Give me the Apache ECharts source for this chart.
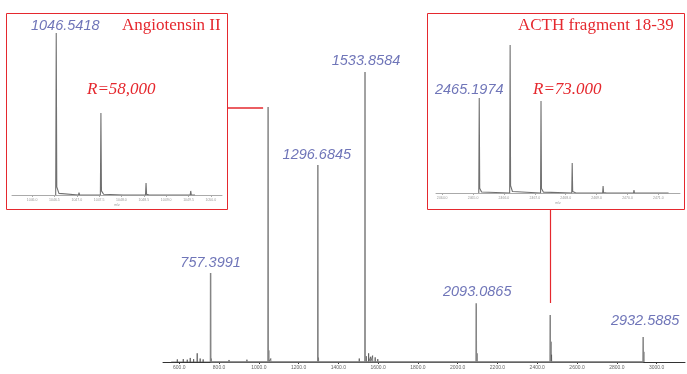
<!DOCTYPE html>
<html><head><meta charset="utf-8">
<script src="https://cdn.jsdelivr.net/npm/echarts@6/dist/echarts.min.js"></script>
<style>html,body{margin:0;padding:0;background:#fff}#c{width:687px;height:374px}</style>
</head><body><div id="c"></div>
<script>
// Main spectrum peaks (m/z, relative intensity)
const mainMz = [757.3991, 1046.5418, 1296.6845, 1533.8584, 2093.0865, 2465.1974, 2932.5885];
const mainInt = [30.7, 87.9, 67.9, 100, 20.3, 16.2, 8.6];
const mainLabels = ['757.3991', '1046.5418', '1296.6845', '1533.8584', '2093.0865', '2465.1974', '2932.5885'];
// Small background peaks in the main spectrum
const noiseMz = [560, 590, 620, 640, 655, 672, 690, 705, 720, 760, 790, 850, 880, 940, 985, 1050, 1060, 1300, 1470, 1505, 1540, 1552, 1562, 1572, 1585, 1598, 1620, 2097, 2418, 2469, 2472, 2936];
const noiseInt = [0.6, 0.9, 1.0, 0.8, 1.4, 1.0, 3.0, 1.2, 0.9, 1.2, 0.6, 0.7, 0.5, 0.8, 0.6, 4.0, 1.2, 1.5, 0.6, 1.2, 2.0, 3.0, 1.8, 2.2, 1.6, 1.0, 0.5, 3.0, 0.6, 7.0, 2.5, 3.5];
// Main axis tick labels
const mainTicks = [600, 800, 1000, 1200, 1400, 1600, 1800, 2000, 2200, 2400, 2600, 2800, 3000];

// Angiotensin II inset
const angMz = [1046.54, 1047.05, 1047.54, 1048.05, 1048.55, 1049.05, 1049.55];
const angInt = [100, 1.5, 50.6, 0.9, 7.4, 0.5, 2.5];
const angTicks = [1046.0, 1046.5, 1047.0, 1047.5, 1048.0, 1048.5, 1049.0, 1049.5, 1050.0];
const angLabel = '1046.5418';

// ACTH fragment 18-39 inset
const acthMz = [2465.20, 2466.20, 2467.20, 2468.21, 2469.21, 2470.21, 2471.21];
const acthInt = [64.2, 100, 62.2, 20.3, 4.7, 2.0, 1.0];
const acthTicks = [2464, 2465, 2466, 2467, 2468, 2469, 2470, 2471];
const acthLabel = '2465.1974';

const RED = '#e5282e', BLUE = '#4b52a6';

function spikes(mz, inten, w, tail) {
  const pts = [];
  mz.map((m, i) => [m, inten[i]]).sort((a, b) => a[0] - b[0]).forEach(([m, h]) => {
    pts.push([m - w, 0], [m, h]);
    if (tail) { pts.push([m + w, h * 0.05], [m + 5 * w, h * 0.01]); }
    pts.push([m + (tail ? 8 : 1) * w, 0]);
  });
  return pts;
}

const chart = echarts.init(document.getElementById('c'), null, { renderer: 'canvas' });

const mainLabelIdx = [0, 2, 3, 4, 6];
const mainLabelOffsets = { 0: [0, 0], 2: [-1, 0], 3: [1, -1], 4: [1, -1], 6: [2, -6] };

const insetAxis = (min, max, ticks, dec) => ({
  type: 'value', min: min, max: max,
  axisLine: { lineStyle: { color: '#aaa', width: 1 } },
  axisTick: { show: true, customValues: ticks, length: 2, lineStyle: { color: '#aaa' } },
  axisLabel: { customValues: ticks, fontSize: 3.5, color: '#999', margin: 3, formatter: v => v.toFixed(dec) },
  splitLine: { show: false },
  name: 'm/z', nameLocation: 'middle', nameGap: 8, nameTextStyle: { fontSize: 3.5, color: '#999' }
});

chart.setOption({
  animation: false,
  grid: [
    { left: 163, width: 522, top: 72, bottom: 12 },
    { left: 12, width: 210, top: 33, height: 162 },
    { left: 436, width: 244, top: 45, height: 148 }
  ],
  xAxis: [
    {
      gridIndex: 0, type: 'value', min: 518, max: 3143,
      axisLine: { lineStyle: { color: '#333', width: 1 } },
      axisTick: { show: true, customValues: mainTicks, length: 2, lineStyle: { color: '#333' } },
      axisLabel: { customValues: mainTicks, fontSize: 5, color: '#666', margin: 3, formatter: v => v.toFixed(1) },
      splitLine: { show: false }
    },
    Object.assign({ gridIndex: 1 }, insetAxis(1045.55, 1050.25, angTicks, 1)),
    Object.assign({ gridIndex: 2 }, insetAxis(2463.8, 2471.7, acthTicks, 1))
  ],
  yAxis: [0, 1, 2].map(g => ({ gridIndex: g, type: 'value', min: 0, max: 100, show: false })),
  series: [
    {
      type: 'line', xAxisIndex: 0, yAxisIndex: 0, showSymbol: false, silent: true,
      data: spikes(noiseMz, noiseInt, 0.6, false),
      lineStyle: { color: '#555', width: 0.8 }
    },
    {
      type: 'line', xAxisIndex: 0, yAxisIndex: 0, showSymbol: false, silent: true,
      data: spikes(mainMz, mainInt, 0.6, false),
      lineStyle: { color: '#858585', width: 1.5 }
    },
    {
      type: 'scatter', xAxisIndex: 0, yAxisIndex: 0, symbolSize: 0, silent: true,
      data: mainLabelIdx.map(i => ({
        value: [mainMz[i], mainInt[i]], name: mainLabels[i],
        label: { offset: mainLabelOffsets[i] }
      })),
      label: { show: true, position: 'top', distance: 3, formatter: p => p.name,
        fontFamily: 'Liberation Sans, Arial, sans-serif', fontStyle: 'italic', fontSize: 14.5, color: BLUE }
    },
    {
      type: 'line', xAxisIndex: 1, yAxisIndex: 1, showSymbol: false, silent: true,
      data: spikes(angMz, angInt, 0.012, true),
      lineStyle: { color: '#707070', width: 1.1 }
    },
    {
      type: 'scatter', xAxisIndex: 1, yAxisIndex: 1, symbolSize: 0, silent: true,
      data: [{ value: [angMz[0], angInt[0]], name: angLabel, label: { offset: [9, 3] } }],
      label: { show: true, position: 'top', distance: 3, formatter: p => p.name,
        fontFamily: 'Liberation Sans, Arial, sans-serif', fontStyle: 'italic', fontSize: 14.5, color: BLUE }
    },
    {
      type: 'line', xAxisIndex: 2, yAxisIndex: 2, showSymbol: false, silent: true,
      data: spikes(acthMz, acthInt, 0.015, true),
      lineStyle: { color: '#707070', width: 1.1 }
    },
    {
      type: 'scatter', xAxisIndex: 2, yAxisIndex: 2, symbolSize: 0, silent: true,
      data: [{ value: [acthMz[0], acthInt[0]], name: acthLabel, label: { offset: [-10, 2] } }],
      label: { show: true, position: 'top', distance: 3, formatter: p => p.name,
        fontFamily: 'Liberation Sans, Arial, sans-serif', fontStyle: 'italic', fontSize: 14.5, color: BLUE }
    }
  ]
});

// Annotation boxes, titles and connectors
const p1046 = chart.convertToPixel({ xAxisIndex: 0, yAxisIndex: 0 }, [mainMz[1], mainInt[1]]);
const p2465 = chart.convertToPixel({ xAxisIndex: 0, yAxisIndex: 0 }, [mainMz[5], mainInt[5]]);
const serif = 'Liberation Serif, Times New Roman, serif';
const hy = Math.round(p1046[1]) + 1;
const vx = Math.round(p2465[0]) + 0.5;
chart.setOption({
  graphic: [
    { type: 'rect', z: 100, shape: { x: 6.5, y: 13.5, width: 221, height: 196 }, style: { fill: 'transparent', stroke: RED, lineWidth: 1 } },
    { type: 'rect', z: 100, shape: { x: 427.5, y: 13.5, width: 257, height: 196 }, style: { fill: 'transparent', stroke: RED, lineWidth: 1 } },
    { type: 'rect', z: 100, shape: { x: 227.5, y: hy - 0.75, width: p1046[0] - 5 - 227.5, height: 1.5 }, style: { fill: RED, stroke: null } },
    { type: 'polyline', z: 100, shape: { points: [[vx, 209.5], [vx, p2465[1] - 12]] }, style: { stroke: RED, fill: null, lineWidth: 1.2 } },
    { type: 'text', z: 100, x: 122, y: 17, style: { text: 'Angiotensin II', fill: RED, font: '17px ' + serif } },
    { type: 'text', z: 100, x: 87, y: 81, style: { text: 'R=58,000', fill: RED, font: 'italic 17px ' + serif } },
    { type: 'text', z: 100, x: 518, y: 17, style: { text: 'ACTH fragment 18-39', fill: RED, font: '17px ' + serif } },
    { type: 'text', z: 100, x: 533, y: 81, style: { text: 'R=73.000', fill: RED, font: 'italic 17px ' + serif } }
  ]
});
</script>
</body></html>
